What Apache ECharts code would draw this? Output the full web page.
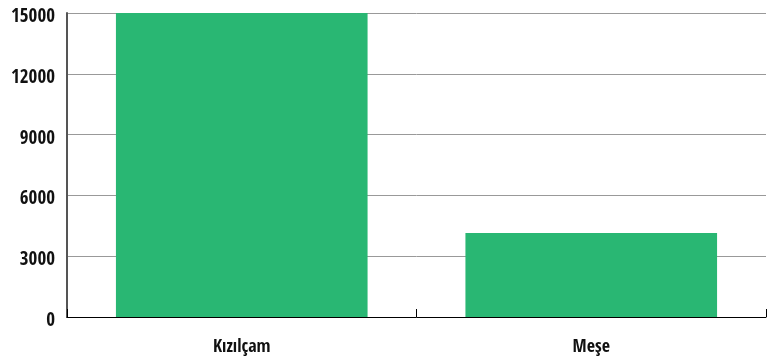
<!DOCTYPE html>
<html><head><meta charset="utf-8">
<script src="https://cdn.jsdelivr.net/npm/echarts@6/dist/echarts.min.js"></script>
<style>html,body{margin:0;padding:0;background:#fff}#c{width:771px;height:364px}</style>
</head><body><div id="c"></div>
<script>
const categories = ['Kızılçam', 'Meşe'];
const values = [15000, 4150];
const yTicks = [0, 3000, 6000, 9000, 12000, 15000];
const FONT = "'Open Sans Condensed', 'Roboto Condensed', sans-serif";
const chart = echarts.init(document.getElementById('c'), null, {renderer: 'canvas'});
chart.setOption({
  animation: false,
  grid: {left: 67, right: 5, top: 13, bottom: 47, containLabel: false, outerBoundsMode: 'none'},
  xAxis: {
    type: 'category', data: categories,
    axisLine: {lineStyle: {color: '#000', width: 1}},
    axisTick: {show: true, inside: true, length: 8, lineStyle: {color: '#000', width: 1}},
    axisLabel: {color: '#111', fontFamily: FONT, fontWeight: 'bold', fontSize: 18, margin: 21}
  },
  yAxis: {
    type: 'value', min: yTicks[0], max: yTicks[yTicks.length - 1], interval: 3000,
    axisLine: {show: true, lineStyle: {color: '#555', width: 2}},
    axisTick: {show: false},
    splitLine: {lineStyle: {color: '#999', width: 1}},
    axisLabel: {color: '#111', fontFamily: FONT, fontWeight: 'bold', fontSize: 19, margin: 12,
      verticalAlign: 'top', lineHeight: 8, formatter: v => String(v)}
  },
  series: [{
    type: 'bar', data: values, barWidth: '72%',
    itemStyle: {color: '#29b773'}
  }]
});
</script></body></html>
